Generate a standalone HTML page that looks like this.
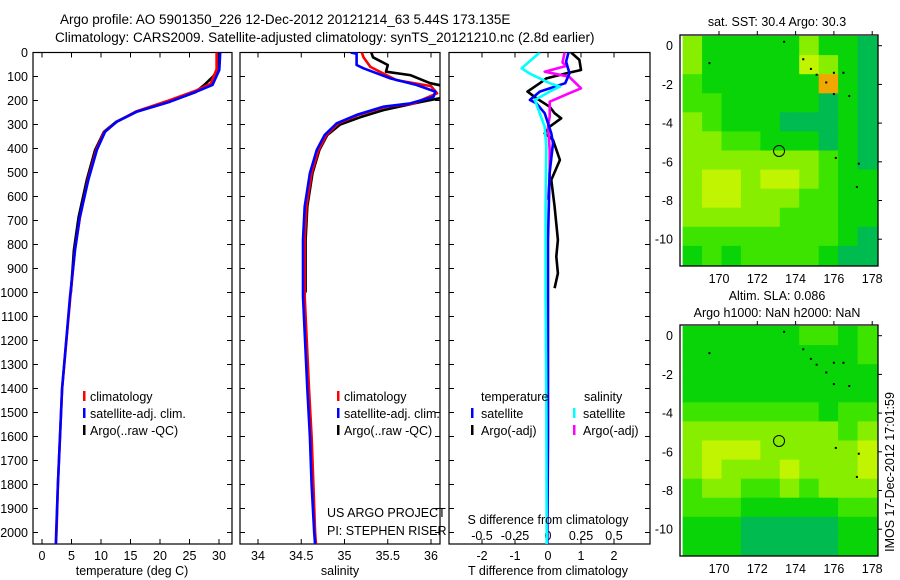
<!DOCTYPE html>
<html><head><meta charset="utf-8"><style>
body{margin:0;background:#fff;}
svg{display:block;font-family:"Liberation Sans",sans-serif;}
text{fill:#000;}
</style></head><body>
<svg id="chart" width="900" height="580" viewBox="0 0 900 580" xmlns="http://www.w3.org/2000/svg">
<defs>
<clipPath id="c1"><rect x="33" y="52.5" width="199" height="491.5"/></clipPath>
<clipPath id="c2"><rect x="240" y="52.5" width="200" height="491.5"/></clipPath>
<clipPath id="c3"><rect x="449" y="52.5" width="201" height="491.5"/></clipPath>
</defs>
<text x="60" y="24" font-size="13.5">Argo profile: AO 5901350_226 12-Dec-2012 20121214_63 5.44S 173.135E</text>
<text x="55" y="42" font-size="13.5">Climatology: CARS2009. Satellite-adjusted climatology: synTS_20121210.nc (2.8d earlier)</text>
<g id="frames" fill="none" stroke="#000" stroke-width="1.2">
<rect x="33" y="52.5" width="199" height="491.5"/>
<rect x="240" y="52.5" width="200" height="491.5"/>
<rect x="449" y="52.5" width="201" height="491.5"/>
</g>
<g id="ticks" stroke="#000" stroke-width="1"></g>
<g id="ticklabels" font-size="12.5"></g>
<g id="lines" fill="none" stroke-width="2.6" stroke-linejoin="round"></g>
<text x="132" y="575" font-size="12.5" text-anchor="middle">temperature (deg C)</text>
<text x="340" y="575" font-size="12.5" text-anchor="middle">salinity</text>
<text x="548" y="575" font-size="12.5" text-anchor="middle">T difference from climatology</text>
<text x="548" y="524" font-size="12.5" text-anchor="middle">S difference from climatology</text>
<g font-size="12.5">
<rect x="83" y="391" width="2.5" height="10" fill="#f00"/><text x="90" y="401">climatology</text>
<rect x="83" y="408" width="2.5" height="10" fill="#00f"/><text x="90" y="418">satellite-adj. clim.</text>
<rect x="83" y="425" width="2.5" height="10" fill="#000"/><text x="90" y="435">Argo(..raw -QC)</text>
</g>
<g font-size="12.5">
<rect x="337" y="391" width="2.5" height="10" fill="#f00"/><text x="344" y="401">climatology</text>
<rect x="337" y="408" width="2.5" height="10" fill="#00f"/><text x="344" y="418">satellite-adj. clim.</text>
<rect x="337" y="425" width="2.5" height="10" fill="#000"/><text x="344" y="435">Argo(..raw -QC)</text>
</g>
<text x="327" y="517" font-size="12.5">US ARGO PROJECT</text>
<text x="327" y="535" font-size="12.5">PI: STEPHEN RISER</text>
<g font-size="12.5">
<text x="481" y="401">temperature</text><text x="584" y="401">salinity</text>
<rect x="471" y="408" width="2.5" height="10" fill="#00f"/><text x="481" y="418">satellite</text>
<rect x="471" y="425" width="2.5" height="10" fill="#000"/><text x="481" y="435">Argo(-adj)</text>
<rect x="573" y="408" width="2.5" height="10" fill="#0ff"/><text x="583" y="418">satellite</text>
<rect x="573" y="425" width="2.5" height="10" fill="#f0f"/><text x="583" y="435">Argo(-adj)</text>
</g>
<text x="777" y="26" font-size="12.5" text-anchor="middle">sat. SST: 30.4 Argo: 30.3</text>
<text x="777" y="300" font-size="12.5" text-anchor="middle">Altim. SLA: 0.086</text>
<text x="777" y="317" font-size="12.5" text-anchor="middle">Argo h1000: NaN h2000: NaN</text>
<g id="maps"></g>
<text transform="translate(894,472) rotate(-90)" font-size="12.5" text-anchor="middle">IMOS 17-Dec-2012 17:01:59</text>
</svg>
<script>
// ---- profile data ----
const tDepthClim = [0,70,130,160,200,245,290,330,405,530,690,820,1020,1400,1600,1800,2000,2050];
const tClim      = [29.6,29.6,28.6,26.0,21.5,16.0,12.6,10.6,9.2,7.8,6.4,5.6,4.8,3.4,3.05,2.7,2.45,2.35];
const tDepthSat  = [0,73,135,163,205,247,288,330,406,531,686,823,1018,1400,1600,1800,2000,2050];
const tSat       = [30.2,30.05,28.9,26.2,21.7,16.0,12.7,10.7,9.3,7.85,6.4,5.6,4.75,3.4,3.05,2.7,2.4,2.35];
const tDepthArgo = [0,70,100,135,165,205,247,290,330,406,531,686,823,1000];
const tArgo      = [29.9,29.9,29.0,27.5,26.0,21.6,16.0,12.5,10.5,9.0,7.6,6.2,5.4,4.9];

const sDepthClim = [0,20,60,115,140,170,212,226,260,295,344,406,503,642,781,1017,1400,1600,1800,2000,2050];
const sClim      = [35.2,35.22,35.3,35.6,36.0,36.07,35.8,35.48,35.16,34.93,34.79,34.7,34.62,34.56,34.54,34.54,34.59,34.62,34.64,34.66,34.67];
const sDepthSat  = [0,5,52,66,108,135,163,184,212,226,260,295,344,406,503,642,781,1017,1400,1600,1800,2000,2050];
const sSat       = [35.07,35.14,35.14,35.22,35.53,35.83,36.05,36.03,35.76,35.45,35.14,34.91,34.77,34.68,34.6,34.54,34.52,34.52,34.57,34.6,34.62,34.65,34.66];
const sDepthArgo = [0,20,52,80,94,128,140,187,208,240,270,300,344,406,503,642,781,1000];
const sArgo      = [35.31,35.33,35.5,35.48,35.76,35.99,36.15,36.15,35.86,35.45,35.18,34.95,34.8,34.71,34.63,34.57,34.55,34.55];

const dDepthTSat = [0,38,87,128,163,198,212,253,337,378,503,781,1200,1600,2050];
const dTSat      = [0.62,0.55,0.65,0.52,-0.25,-0.55,-0.35,-0.1,0.1,0.15,0.05,0.0,0.0,0.0,-0.02];
const dDepthTArgo= [0,31,73,87,108,128,163,191,226,253,274,309,337,364,448,531,642,781,850,920,982];
const dTArgo     = [0.7,0.95,1.0,0.55,-0.05,-0.25,-0.62,-0.35,0.05,0.2,0.4,0.05,-0.1,0.15,0.36,0.1,0.2,0.3,0.25,0.3,0.2];
const dDepthSSat = [0,66,87,128,142,163,198,253,309,392,642,1017,1500,2050];
const dSSat      = [-0.063,-0.2,-0.14,0.013,0.09,0.013,-0.1,-0.063,-0.025,-0.013,-0.018,-0.018,-0.012,-0.01];
const dDepthSArgo= [0,42,56,80,101,149,170,205,267,309,406,517,614];
const dSArgo     = [0.126,0.11,0.14,-0.025,0.16,0.25,0.16,0.013,0.013,0.0,0.013,0.013,0.0];

// ---- tick label arrays ----
const depthTicks = [0,100,200,300,400,500,600,700,800,900,1000,1100,1200,1300,1400,1500,1600,1700,1800,1900,2000];
const tempTicks = [0,5,10,15,20,25,30];
const salTicks = [34,34.5,35,35.5,36];
const tDiffTicks = [-2,-1,0,1,2];
const sDiffTicks = [-0.5,-0.25,0,0.25,0.5];
const lonTicks = [170,172,174,176,178];
const latTicks = [0,-2,-4,-6,-8,-10];

// ---- map data (rows north->south, cols west->east) ----
const sstGrid = [
[3,1,1,1,1,1,3,1,1,0],
[3,1,1,1,1,1,4,3,1,0],
[2,1,1,1,1,1,1,5,1,0],
[2,2,1,1,1,1,1,0,1,0],
[3,2,1,1,1,0,0,0,1,0],
[3,3,2,2,1,1,1,0,1,0],
[3,3,3,3,3,3,3,2,1,0],
[3,4,4,3,4,4,3,2,1,1],
[3,4,4,3,3,3,2,2,1,1],
[3,3,3,3,3,2,2,2,1,1],
[2,2,2,2,2,2,2,2,1,0],
[1,2,1,2,2,2,2,1,0,0]];
const slaGrid = [
[1,1,1,1,1,1,2,2,1,2],
[1,1,1,1,1,1,1,1,1,2],
[1,1,1,1,1,1,1,1,1,1],
[1,1,1,1,1,1,1,1,1,1],
[2,2,2,2,2,2,2,1,2,2],
[3,3,3,3,3,3,3,3,2,3],
[3,4,4,4,3,3,3,3,3,4],
[3,4,3,3,3,4,3,3,3,4],
[2,3,3,2,2,3,2,3,3,3],
[2,2,2,1,1,1,1,1,2,2],
[1,1,1,0,0,0,0,0,1,1],
[1,1,1,0,0,0,0,0,1,1]];
const argoLon = [173.135];
const argoLat = [-5.44];
const islandLon = [173.4,174.4,174.8,175.1,176.0,176.5,175.6,176.0,176.8,176.1,177.3,177.2,169.5];
const islandLat = [0.2,-0.7,-1.2,-1.5,-1.4,-1.4,-1.9,-2.5,-2.6,-5.8,-6.1,-7.3,-0.9];

const NS = 'http://www.w3.org/2000/svg';
const yD = d => 52.5 + d*0.24;
const xT = t => 42 + t*5.9;
const xS = s => 258 + (s-34)*86.5;
const xDT = v => 548 + v*33;
const xDS = v => 548 + v*132;
function mk(tag, parent){ const e=document.createElementNS(NS,tag); parent.appendChild(e); return e; }

const ticksG = document.getElementById('ticks');
const labG = document.getElementById('ticklabels');
const panels = [[33,232],[240,440],[449,650]];
panels.forEach(([a,b]) => {
  depthTicks.forEach(d => {
    const l1 = mk('line', ticksG);
    
    
    l1.setAttribute('x1',a); l1.setAttribute('x2',a+5); l1.setAttribute('y1',yD(d)); l1.setAttribute('y2',yD(d));
    const l2 = mk('line', ticksG);
    
    
    l2.setAttribute('x1',b-5); l2.setAttribute('x2',b); l2.setAttribute('y1',yD(d)); l2.setAttribute('y2',yD(d));
  });
});
depthTicks.forEach(d => {
  const t = mk('text', labG);
  
  
  t.setAttribute('x',28); t.setAttribute('y',yD(d)+4.5); t.setAttribute('text-anchor','end');
  t.textContent = d;
});
function xAxis(vals, fx, labelY, name, top){
  vals.forEach(v => {
    const x = fx(v);
    const l = mk('line', ticksG);
    
    
    l.setAttribute('x1',x); l.setAttribute('x2',x); l.setAttribute('y1',539); l.setAttribute('y2',544);
    if (top) {
      const l2 = mk('line', ticksG);
      
      
      l2.setAttribute('x1',x); l2.setAttribute('x2',x); l2.setAttribute('y1',52.5); l2.setAttribute('y2',57.5);
    }
    const t = mk('text', labG);
    
    
    t.setAttribute('x',x); t.setAttribute('y',labelY); t.setAttribute('text-anchor','middle');
    t.textContent = v;
  });
}
xAxis(tempTicks, xT, 560, 'temperature', true);
xAxis(salTicks, xS, 560, 'salinity', true);
xAxis(tDiffTicks, xDT, 560, 't-difference', true);
xAxis(sDiffTicks, xDS, 540, 's-difference', false);

const linesG = document.getElementById('lines');
function line(depths, vals, fx, color, clip, name){
  const p = mk('polyline', linesG);
  
  
  p.setAttribute('stroke', color);
  p.setAttribute('clip-path', 'url(#'+clip+')');
  p.setAttribute('points', depths.map((d,i)=>fx(vals[i]).toFixed(1)+','+yD(d).toFixed(1)).join(' '));
}
line(tDepthArgo, tArgo, xT, '#000', 'c1', 'temperature-argo-line');
line(tDepthClim, tClim, xT, '#f00', 'c1', 'temperature-climatology-line');
line(tDepthSat, tSat, xT, '#00f', 'c1', 'temperature-satellite-line');
line(sDepthArgo, sArgo, xS, '#000', 'c2', 'salinity-argo-line');
line(sDepthClim, sClim, xS, '#f00', 'c2', 'salinity-climatology-line');
line(sDepthSat, sSat, xS, '#00f', 'c2', 'salinity-satellite-line');
line(dDepthTArgo, dTArgo, xDT, '#000', 'c3', 't-diff-argo-line');
line(dDepthSArgo, dSArgo, xDS, '#f0f', 'c3', 's-diff-argo-line');
line(dDepthTSat, dTSat, xDT, '#00f', 'c3', 't-diff-satellite-line');
line(dDepthSSat, dSSat, xDS, '#0ff', 'c3', 's-diff-satellite-line');

// ---- maps ----
const cmap = ['#00bc50','#08d408','#3ce400','#88ee00','#c0f400','#f0a800'];
const mapsG = document.getElementById('maps');
const lonX = lon => 719 + (lon-170)*19.15;
function drawMap(grid, top, name){
  const latY = lat => top + 10.7 - lat*19.35;
  const g = mk('g', mapsG);
  
  
  const lon0=168.1, dlon=1.015, lat0=0.5, dlat=0.986;
  grid.forEach((row,r) => row.forEach((v,c) => {
    const x1=lonX(lon0+c*dlon), x2=lonX(lon0+(c+1)*dlon);
    const y1=latY(lat0-r*dlat), y2=latY(lat0-(r+1)*dlat);
    const rc = mk('rect', g);
    
    
    rc.setAttribute('x',x1.toFixed(1)); rc.setAttribute('y',y1.toFixed(1));
    rc.setAttribute('width',(x2-x1+0.5).toFixed(1)); rc.setAttribute('height',(y2-y1+0.5).toFixed(1));
    rc.setAttribute('fill', cmap[v]);
  }));
  islandLon.forEach((lo,i) => {
    const d = mk('rect', g);
    
    
    d.setAttribute('x',lonX(lo)-1); d.setAttribute('y',latY(islandLat[i])-1);
    d.setAttribute('width',2); d.setAttribute('height',2); d.setAttribute('fill','#000');
  });
  argoLon.forEach((lo,i) => {
    const c = mk('circle', g);
    
    
    c.setAttribute('cx',lonX(lo)); c.setAttribute('cy',latY(argoLat[i])); c.setAttribute('r',5.5);
    c.setAttribute('fill','none'); c.setAttribute('stroke','#000'); c.setAttribute('stroke-width',1);
  });
  const fr = mk('rect', g);
  
  
  fr.setAttribute('x',680); fr.setAttribute('y',top); fr.setAttribute('width',198); fr.setAttribute('height',231);
  fr.setAttribute('fill','none'); fr.setAttribute('stroke','#000'); fr.setAttribute('stroke-width',1.3);
  lonTicks.forEach(lo => {
    const x = lonX(lo);
    const tk = mk('line', g);
    
    
    tk.setAttribute('x1',x); tk.setAttribute('x2',x); tk.setAttribute('y1',top-4); tk.setAttribute('y2',top); tk.setAttribute('stroke','#000');
    const t = mk('text', g);
    
    
    t.setAttribute('x',x); t.setAttribute('y',top+248); t.setAttribute('text-anchor','middle'); t.setAttribute('font-size','12.5');
    t.textContent = lo;
  });
  latTicks.forEach(la => {
    const y = latY(la);
    const tk = mk('line', g);
    
    
    tk.setAttribute('x1',878); tk.setAttribute('x2',882); tk.setAttribute('y1',y); tk.setAttribute('y2',y); tk.setAttribute('stroke','#000');
    const t = mk('text', g);
    
    
    t.setAttribute('x',673); t.setAttribute('y',y+4.5); t.setAttribute('text-anchor','end'); t.setAttribute('font-size','12.5');
    t.textContent = la;
  });
}
drawMap(sstGrid, 35, 'sst-map');
drawMap(slaGrid, 325, 'sla-map');
</script>
</body></html>
